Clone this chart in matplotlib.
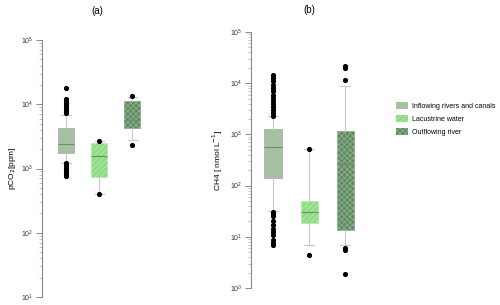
import matplotlib
matplotlib.use('Agg')
import matplotlib.pyplot as plt
import numpy as np

plt.rcParams['font.family'] = ['Liberation Sans', 'DejaVu Sans']
plt.rcParams['hatch.linewidth'] = 0.6

groups = ['Inflowing rivers and canals', 'Lacustrine water', 'Outflowing river']
face_colors = ['#a6c0a2', '#8edc86', '#5f8a60']
hatch_colors = ['#a6c0a2', '#b6ecaa', '#8fb08f']
hatches = ['', '//////', 'xxxxxx']

# panel (a): pCO2 [ppm]
co2_q1 = [1714, 731, 4217]
co2_med = [2427, 1556, 5770]
co2_q3 = [4217, 2520, 11260]
co2_wlo = [1200, 403, 2738]
co2_whi = [6740, 2640, 12860]
co2_fliers = [
    [18000, 12000, 11200, 10600, 10000, 9400, 8800, 8200, 7700, 7240,
     1200, 1120, 1060, 1000, 950, 900, 850, 800, 760],
    [2640, 403],
    [13300, 2290],
]

# panel (b): CH4 [nmol L-1]
ch4_q1 = [141, 18.3, 13.3]
ch4_med = [575, 30.5, 264]
ch4_q3 = [1292, 49, 1145]
ch4_wlo = [31.3, 7.0, 7.0]
ch4_whi = [2240, 525, 8940]
ch4_fliers = [
    [14600, 12500, 10800, 9300, 8000, 7000, 6000, 5200, 4500, 3900, 3400, 3000, 2600, 2300,
     31, 28, 25, 20, 17, 14, 12.5, 11, 8.5, 7.6, 7.0],
    [525, 4.47],
    [21300, 19400, 11340, 6.04, 5.6, 1.9],
]


def draw_boxes(ax, q1, med, q3, wlo, whi, fliers):
    stats = []
    for i in range(3):
        stats.append(dict(q1=q1[i], med=med[i], q3=q3[i], whislo=wlo[i],
                          whishi=whi[i], fliers=fliers[i]))
    bp = ax.bxp(stats, positions=[1, 2, 3], widths=0.48, patch_artist=True,
                showfliers=True,
                boxprops=dict(linewidth=0.6),
                medianprops=dict(color='#6e8a6e', linewidth=0.8),
                whiskerprops=dict(color='#c8c8c8', linewidth=0.8),
                capprops=dict(color='#c8c8c8', linewidth=0.8),
                flierprops=dict(marker='o', markersize=2.7, markerfacecolor='black',
                                markeredgecolor='black'))
    for i, box in enumerate(bp['boxes']):
        box.set_facecolor(face_colors[i])
        box.set_edgecolor(hatch_colors[i] if hatches[i] else '#b0b0b0')
        box.set_hatch(hatches[i])
    for c in bp['caps']:
        xs = c.get_xdata()
        mid = np.mean(xs)
        c.set_xdata([mid - 0.14, mid + 0.14])
    return bp


def style_axis(ax, lo, hi, xlo):
    ax.set_yscale('log')
    ax.set_ylim(lo, hi)
    ax.set_xlim(xlo, 3.6)
    for s in ['top', 'right', 'bottom']:
        ax.spines[s].set_visible(False)
    ax.spines['left'].set_color('#888888')
    ax.spines['left'].set_linewidth(0.8)
    ax.set_xticks([])
    ax.tick_params(axis='y', which='major', length=4, width=0.7, color='#888888',
                   labelsize=5, labelcolor='#333333', pad=2)
    ax.tick_params(axis='y', which='minor', length=2.5, width=0.5, color='#aaaaaa')
    ax.set_facecolor('none')


fig = plt.figure(figsize=(5.0, 3.05), dpi=100)

ax1 = fig.add_axes([42 / 500, 8 / 305, 110 / 500, 257 / 305])
draw_boxes(ax1, co2_q1, co2_med, co2_q3, co2_wlo, co2_whi, co2_fliers)
style_axis(ax1, 10, 1e5, 0.27)
ax1.set_ylabel('pCO$_2$[ppm]', fontsize=6, labelpad=2)
ax1.set_title('(a)', fontsize=7, pad=19)

ax2 = fig.add_axes([251 / 500, 17 / 305, 116 / 500, 256 / 305])
draw_boxes(ax2, ch4_q1, ch4_med, ch4_q3, ch4_wlo, ch4_whi, ch4_fliers)
style_axis(ax2, 1, 1e5, 0.39)
ax2.set_ylabel('CH4 [ nmol L$^{-1}$]', fontsize=6, labelpad=4)
ax2.set_title('(b)', fontsize=7, pad=14)

handles = [plt.Rectangle((0, 0), 1, 1, facecolor=face_colors[i],
                         edgecolor=hatch_colors[i] if hatches[i] else face_colors[i],
                         hatch=hatches[i], linewidth=0)
           for i in range(3)]
fig.legend(handles, groups, loc='upper left', bbox_to_anchor=(395 / 500, 1 - 101 / 305),
           frameon=False, fontsize=5, handlelength=1.7, handleheight=1.1,
           handletextpad=0.5, labelspacing=0.75, borderaxespad=0, borderpad=0.2)

fig.savefig('out.png', dpi=100)
